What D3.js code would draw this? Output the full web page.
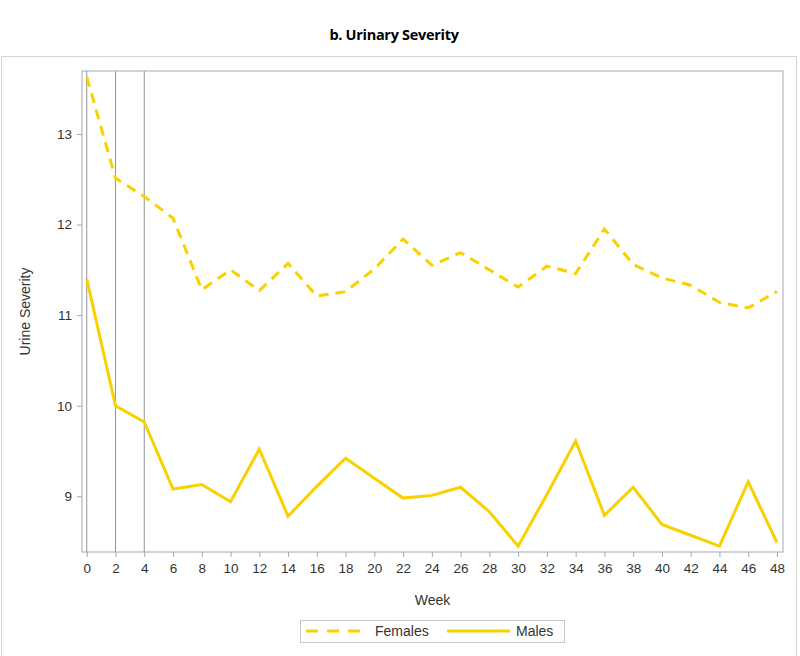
<!DOCTYPE html>
<html>
<head>
<meta charset="utf-8">
<script src="https://cdn.jsdelivr.net/npm/d3@7"></script>
<style>
  body { margin: 0; background: #fff; }
  svg text { font-family: "Liberation Sans", Arial, sans-serif; fill: #333; }
</style>
</head>
<body>
<div id="chart"></div>
<script>
const weeks = [0, 2, 4, 6, 8, 10, 12, 14, 16, 18, 20, 22, 24, 26, 28, 30, 32, 34, 36, 38, 40, 42, 44, 46, 48]
const females = [13.63, 12.51, 12.31, 12.07, 11.28, 11.50, 11.27, 11.57, 11.21, 11.26, 11.51, 11.84, 11.55, 11.69, 11.50, 11.31, 11.54, 11.46, 11.95, 11.56, 11.41, 11.33, 11.14, 11.08, 11.26]
const males = [11.40, 10.00, 9.82, 9.08, 9.13, 8.94, 9.52, 8.78, 9.11, 9.42, 9.20, 8.98, 9.01, 9.10, 8.83, 8.45, 9.02, 9.61, 8.79, 9.10, 8.69, 8.57, 8.45, 9.16, 8.49]
const refWeeks = [0, 2, 4]
const yTicks = [9, 10, 11, 12, 13]

const width = 800
const height = 656
const pLeft = 82, pRight = 783, pTop = 71, pBottom = 552
const gold = "#F9D100"
const frameColor = "#a3a7ad"

const svg = d3.select("#chart").append("svg")
    .attr("width", width)
    .attr("height", height)

svg.append("text")
    .attr("x", 394)
    .attr("y", 40)
    .attr("text-anchor", "middle")
    .style("font-family", "'Open Sans', sans-serif")
    .style("font-weight", "bold")
    .style("font-size", "14.5px")
    .style("letter-spacing", "-0.3px")
    .style("fill", "#000")
    .text("b. Urinary Severity")

// outer border
svg.append("rect")
    .attr("x", 1.5).attr("y", 56.5)
    .attr("width", 795).attr("height", 600)
    .attr("fill", "none")
    .attr("stroke", "#d4d4d4")

const x = d3.scaleLinear().domain([-0.33, 48.42]).range([pLeft, pRight])
const y = d3.scaleLinear().domain([8.385, 13.695]).range([pBottom, pTop])

// reference lines
svg.selectAll(".ref").data(refWeeks).enter().append("line")
    .attr("x1", d => x(d)).attr("x2", d => x(d))
    .attr("y1", pTop).attr("y2", pBottom)
    .attr("stroke", "#8f9399")
    .attr("stroke-width", 1)

const xAxis = svg.append("g")
    .attr("transform", `translate(0,${pBottom})`)
    .call(d3.axisBottom(x).tickValues(weeks).tickSize(5).tickPadding(6))
const yAxis = svg.append("g")
    .attr("transform", `translate(${pLeft},0)`)
    .call(d3.axisLeft(y).tickValues(yTicks).tickFormat(d3.format("d")).tickSize(5).tickPadding(5))

for (const ax of [xAxis, yAxis]) {
    ax.select(".domain").remove()
    ax.selectAll("line").attr("stroke", frameColor)
    ax.selectAll("text").style("font-size", "13.5px").style("fill", "#333")
}

// frame
svg.append("rect")
    .attr("x", pLeft).attr("y", pTop)
    .attr("width", pRight - pLeft).attr("height", pBottom - pTop)
    .attr("fill", "none")
    .attr("stroke", frameColor)
    .attr("stroke-width", 1)

const line = d3.line()
    .x((d, i) => x(weeks[i]))
    .y(d => y(d))

svg.append("path")
    .datum(females)
    .attr("d", line)
    .attr("fill", "none")
    .attr("stroke", gold)
    .attr("stroke-width", 3)
    .attr("stroke-dasharray", "10,7")

svg.append("path")
    .datum(males)
    .attr("d", line)
    .attr("fill", "none")
    .attr("stroke", gold)
    .attr("stroke-width", 3)

// axis titles
svg.append("text")
    .attr("x", (pLeft + pRight) / 2)
    .attr("y", 605)
    .attr("text-anchor", "middle")
    .style("font-size", "14px")
    .text("Week")

svg.append("text")
    .attr("transform", `translate(30,${(pTop + pBottom) / 2}) rotate(-90)`)
    .attr("text-anchor", "middle")
    .style("font-size", "14px")
    .text("Urine Severity")

// legend
const lg = svg.append("g")
lg.append("rect")
    .attr("x", 300.5).attr("y", 620.5)
    .attr("width", 264).attr("height", 22)
    .attr("fill", "#fff")
    .attr("stroke", "#c8c8c8")
lg.append("line")
    .attr("x1", 306).attr("x2", 360).attr("y1", 631).attr("y2", 631)
    .attr("stroke", gold).attr("stroke-width", 3)
    .attr("stroke-dasharray", "12,9")
lg.append("text")
    .attr("x", 375).attr("y", 636)
    .style("font-size", "14px")
    .text("Females")
lg.append("line")
    .attr("x1", 447).attr("x2", 510).attr("y1", 631).attr("y2", 631)
    .attr("stroke", gold).attr("stroke-width", 3)
lg.append("text")
    .attr("x", 516).attr("y", 636)
    .style("font-size", "14px")
    .text("Males")
</script>
</body>
</html>
